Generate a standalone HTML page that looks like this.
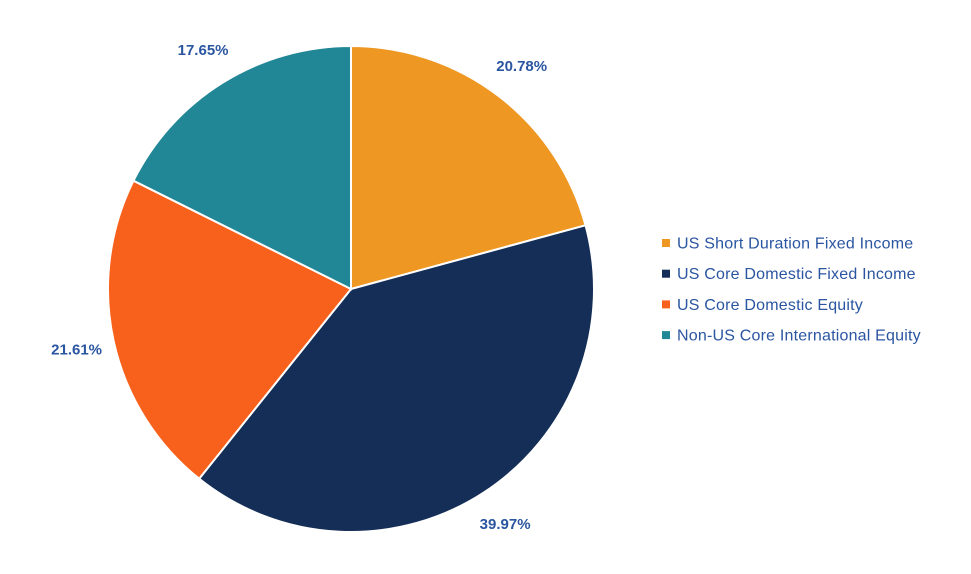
<!DOCTYPE html>
<html><head><meta charset="utf-8"><style>
html,body{margin:0;padding:0;background:#fff;}
svg{display:block;font-family:"Liberation Sans",sans-serif;}
</style></head><body>
<svg id="chart" width="971" height="574" viewBox="0 0 971 574">
<g id="slices"></g>
<g id="labels"></g>
<g id="legend"></g>
</svg>
<script>
const categories = ["US Short Duration Fixed Income","US Core Domestic Fixed Income","US Core Domestic Equity","Non-US Core International Equity"];
const values = [20.78, 39.97, 21.61, 17.65];
const valueLabels = ["20.78%","39.97%","21.61%","17.65%"];
const colors = ["#EE9722","#142E57","#F8611C","#218696"];
const cx=351, cy=289, r=243, lr=281;
const NS="http://www.w3.org/2000/svg";
const total=values.reduce((a,b)=>a+b,0);
const sl=document.getElementById('slices'), lb=document.getElementById('labels'), lg=document.getElementById('legend');
function pt(a,rad){return [cx+rad*Math.sin(a), cy-rad*Math.cos(a)];}
let acc=0;
values.forEach((v,i)=>{
  const a0=acc/total*2*Math.PI; acc+=v; const a1=acc/total*2*Math.PI;
  const p0=pt(a0,r), p1=pt(a1,r), large=(a1-a0)>Math.PI?1:0;
  const p=document.createElementNS(NS,'path');
  p.setAttribute('d',`M${cx},${cy}L${p0[0]},${p0[1]}A${r},${r} 0 ${large} 1 ${p1[0]},${p1[1]}Z`);
  p.setAttribute('fill',colors[i]); p.setAttribute('stroke','#fff'); p.setAttribute('stroke-width','2');
  
  
  sl.appendChild(p);
  const am=(a0+a1)/2, lp=pt(am,lr);
  const t=document.createElementNS(NS,'text');
  t.setAttribute('x',lp[0]); t.setAttribute('y',lp[1]+5);
  t.setAttribute('text-anchor','middle'); t.setAttribute('font-size','15'); t.setAttribute('font-weight','bold');
  t.setAttribute('fill','#2A55A0'); t.textContent=valueLabels[i];
  
  
  lb.appendChild(t);
  const ly=243+i*30.7;
  const sq=document.createElementNS(NS,'rect');
  sq.setAttribute('x',662); sq.setAttribute('y',ly-4); sq.setAttribute('width',8); sq.setAttribute('height',8); sq.setAttribute('fill',colors[i]);
  
  
  lg.appendChild(sq);
  const lt=document.createElementNS(NS,'text');
  lt.setAttribute('x',677); lt.setAttribute('y',ly+5.5); lt.setAttribute('font-size','16'); lt.setAttribute('fill','#2A55A0');
  lt.setAttribute('letter-spacing','0.2');
  lt.textContent=categories[i];
  
  
  lg.appendChild(lt);
});
</script>
</body></html>
